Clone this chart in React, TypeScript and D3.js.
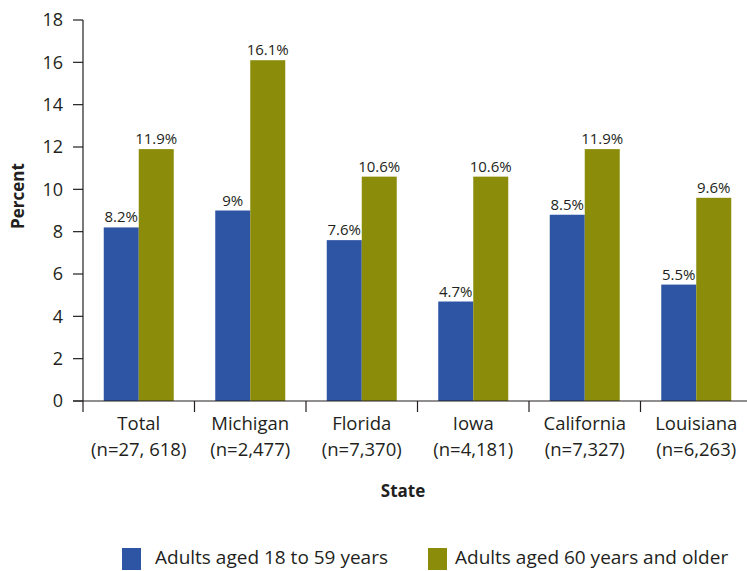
import React, { useEffect, useRef } from "react";
import * as d3 from "d3";

const states = ["Total", "Michigan", "Florida", "Iowa", "California", "Louisiana"];
const sampleSizes = ["(n=27, 618)", "(n=2,477)", "(n=7,370)", "(n=4,181)", "(n=7,327)", "(n=6,263)"];
const younger = [8.2, 9, 7.6, 4.7, 8.8, 5.5];
const youngerLabels = ["8.2%", "9%", "7.6%", "4.7%", "8.5%", "5.5%"];
const older = [11.9, 16.1, 10.6, 10.6, 11.9, 9.6];
const olderLabels = ["11.9%", "16.1%", "10.6%", "10.6%", "11.9%", "9.6%"];
const yTicks = [0, 2, 4, 6, 8, 10, 12, 14, 16, 18];
const seriesNames = ["Adults aged 18 to 59 years", "Adults aged 60 years and older"];

const BLUE = "#2e54a4";
const GREEN = "#8a8c0a";
const INK = "#231f20";
const FONT = "'Open Sans', 'Noto Sans', sans-serif";

const App = () => {
  const svgRef = useRef<SVGSVGElement>(null);

  useEffect(() => {
    const svg = d3.select(svgRef.current);
    svg.selectAll("*").remove();
    svg.attr("width", 747).attr("height", 571).style("font-family", FONT);

    const x = d3.scaleBand().domain(states).range([83, 752]).paddingInner(0).paddingOuter(0);
    const y = d3.scaleLinear().domain([0, 18]).range([401, 20]);
    const barW = 35;

    const g = svg.append("g");

    // bars
    const groups = g
      .selectAll(".grp")
      .data(states)
      .enter()
      .append("g")
      .attr("class", "grp");

    groups
      .append("rect")
      .attr("x", (d) => x(d)! + x.bandwidth() / 2 - barW)
      .attr("y", (d, i) => y(younger[i]))
      .attr("width", barW)
      .attr("height", (d, i) => y(0) - y(younger[i]))
      .attr("fill", BLUE);

    groups
      .append("rect")
      .attr("x", (d) => x(d)! + x.bandwidth() / 2)
      .attr("y", (d, i) => y(older[i]))
      .attr("width", barW)
      .attr("height", (d, i) => y(0) - y(older[i]))
      .attr("fill", GREEN);

    // value labels
    groups
      .append("text")
      .attr("x", (d) => x(d)! + x.bandwidth() / 2 - barW / 2)
      .attr("y", (d, i) => y(younger[i]) - 5)
      .attr("text-anchor", "middle")
      .attr("font-size", "15px")
      .attr("fill", INK)
      .text((d, i) => youngerLabels[i]);

    groups
      .append("text")
      .attr("x", (d) => x(d)! + x.bandwidth() / 2 + barW / 2)
      .attr("y", (d, i) => y(older[i]) - 5)
      .attr("text-anchor", "middle")
      .attr("font-size", "15px")
      .attr("fill", INK)
      .text((d, i) => olderLabels[i]);

    // y axis
    const yAxis = g.append("g").attr("transform", "translate(83,0)");
    yAxis
      .append("line")
      .attr("y1", y(18))
      .attr("y2", y(0) + 11)
      .attr("stroke", INK)
      .attr("stroke-width", 1.2);
    const yt = yAxis.selectAll(".yt").data(yTicks).enter().append("g").attr("transform", (d) => `translate(0,${y(d)})`);
    yt.append("line").attr("x1", -10).attr("x2", 0).attr("stroke", INK).attr("stroke-width", 1.2);
    yt.append("text")
      .attr("x", -20)
      .attr("dy", "0.36em")
      .attr("text-anchor", "end")
      .attr("font-size", "18px")
      .attr("fill", INK)
      .text((d) => d);

    // x axis
    const xAxis = g.append("g").attr("transform", `translate(0,${y(0)})`);
    xAxis.append("line").attr("x1", 73).attr("x2", 752).attr("stroke", INK).attr("stroke-width", 1.2);
    xAxis
      .selectAll(".xt")
      .data(states)
      .enter()
      .append("line")
      .attr("x1", (d) => x(d)! + x.bandwidth())
      .attr("x2", (d) => x(d)! + x.bandwidth())
      .attr("y1", 0)
      .attr("y2", 11)
      .attr("stroke", INK)
      .attr("stroke-width", 1.2);

    const xl = xAxis
      .selectAll(".xl")
      .data(states)
      .enter()
      .append("text")
      .attr("text-anchor", "middle")
      .attr("font-size", "18.5px")
      .attr("fill", INK);
    xl.append("tspan").attr("x", (d) => x(d)! + x.bandwidth() / 2).attr("y", 29).text((d) => d);
    xl.append("tspan").attr("x", (d) => x(d)! + x.bandwidth() / 2).attr("y", 55).text((d, i) => sampleSizes[i]);

    // axis titles
    svg
      .append("text")
      .attr("x", 403)
      .attr("y", 497)
      .attr("text-anchor", "middle")
      .attr("font-size", "17px")
      .attr("font-weight", "bold")
      .attr("fill", INK)
      .text("State");

    svg
      .append("text")
      .attr("transform", "translate(24,196) rotate(-90)")
      .attr("text-anchor", "middle")
      .attr("font-size", "17px")
      .attr("font-weight", "bold")
      .attr("fill", INK)
      .text("Percent");

    // legend
    const legendX = [122, 428];
    const legendColors = [BLUE, GREEN];
    const legend = svg
      .selectAll(".legend-item")
      .data(seriesNames)
      .enter()
      .append("g")
      .attr("transform", (d, i) => `translate(${legendX[i]},548)`);
    legend.append("rect").attr("width", 19).attr("height", 22).attr("fill", (d, i) => legendColors[i]);
    legend
      .append("text")
      .attr("x", (d, i) => (i === 0 ? 33 : 27))
      .attr("y", 16)
      .attr("font-size", "19px")
      .attr("fill", INK)
      .text((d) => d);
  }, []);

  return (
    <div style={{ position: "absolute", left: 0, top: 0 }}>
      <svg ref={svgRef}></svg>
    </div>
  );
};

export default App;
